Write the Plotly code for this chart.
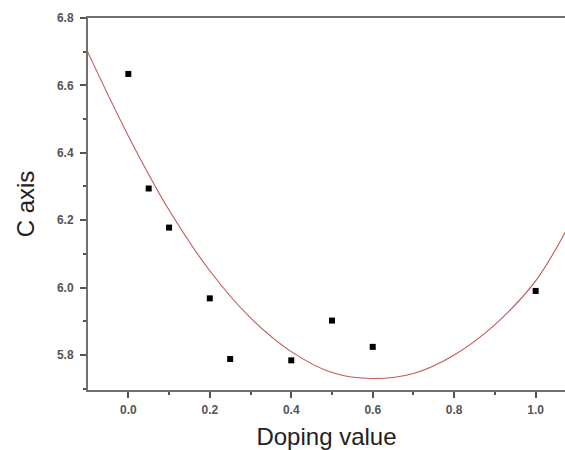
import plotly.graph_objects as go

# measured data points
doping = [0.0, 0.05, 0.1, 0.2, 0.25, 0.4, 0.5, 0.6, 1.0]
c_axis = [6.634, 6.294, 6.178, 5.968, 5.788, 5.784, 5.902, 5.824, 5.990]

# fitted curve
fit_x = [-0.1, 0.0, 0.1, 0.2, 0.3, 0.4, 0.5, 0.6, 0.7, 0.8, 0.9, 1.0, 1.075]
fit_y = [6.70, 6.45, 6.23, 6.05, 5.91, 5.81, 5.748, 5.73, 5.745, 5.80, 5.89, 6.02, 6.17]

x_ticks = [0.0, 0.2, 0.4, 0.6, 0.8, 1.0]
y_ticks = [5.8, 6.0, 6.2, 6.4, 6.6, 6.8]

fig = go.Figure()
fig.add_trace(go.Scatter(x=fit_x, y=fit_y, mode="lines",
                         line=dict(color="#c05a5a", width=1.1, shape="spline"),
                         showlegend=False, hoverinfo="skip"))
fig.add_trace(go.Scatter(x=doping, y=c_axis, mode="markers",
                         marker=dict(symbol="square", size=6, color="black"),
                         showlegend=False))

axis_common = dict(showgrid=False, zeroline=False, showline=True,
                   linecolor="#707070", linewidth=2,
                   ticks="outside", ticklen=6, tickwidth=1.5, tickcolor="#555",
                   tickfont=dict(family="Liberation Sans, Arial", size=12, color="#555",
                                 weight="bold"))

fig.update_layout(
    width=565, height=450,
    margin=dict(l=88, r=0, t=18, b=60),
    paper_bgcolor="white", plot_bgcolor="white",
    xaxis=dict(range=[-0.099, 1.072], tickvals=x_ticks,
               ticktext=[f"{v:.1f}" for v in x_ticks], mirror=True,
               minor=dict(dtick=0.1, tick0=0.0, ticks="outside", ticklen=3,
                          tickcolor="#555", showgrid=False),
               ticklabelstandoff=2,
               title=dict(text="Doping value", standoff=12,
                          font=dict(family="Liberation Sans, Arial", size=24, color="#222")),
               **axis_common),
    yaxis=dict(range=[5.696, 6.8], tickvals=y_ticks,
               ticktext=[f"{v:.1f}" for v in y_ticks], mirror=False,
               minor=dict(dtick=0.1, tick0=5.8, ticks="outside", ticklen=3,
                          tickcolor="#555", showgrid=False),
               ticklabelstandoff=4,
               title=dict(text="C axis", standoff=16,
                          font=dict(family="Liberation Sans, Arial", size=24, color="#222")),
               **axis_common),
)

fig.write_html("out.html")
